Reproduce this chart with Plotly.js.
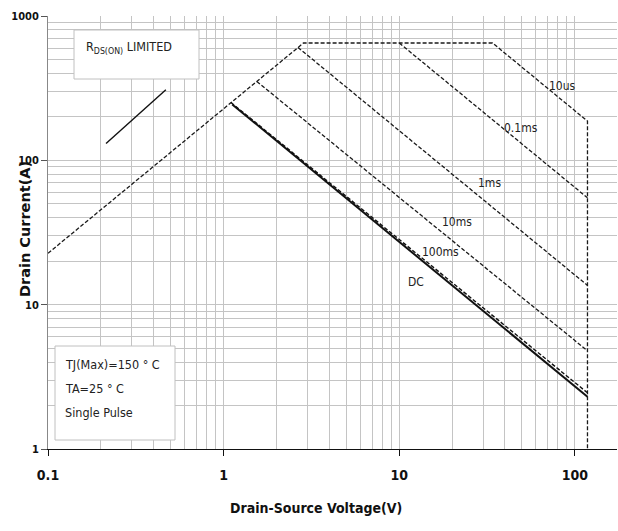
<!DOCTYPE html>
<html>
<head>
<meta charset="utf-8">
<script src="https://cdn.plot.ly/plotly-3.0.1.min.js"></script>
<style>html,body{margin:0;padding:0;background:#fff;}#chart{width:618px;height:531px;}</style>
</head>
<body>
<div id="chart"></div>
<script>
// ---- data (Vds in V, Id in A) ----
const limitV = [0.1, 2.85, 34, 118, 118];      // RDS(on) limit, 10us pulse, BVdss limit
const limitI = [22.7, 650, 650, 187, 1];
const v01ms = [10, 118];
const i01ms = [650, 55];
const v1ms = [2.65, 118];
const i1ms = [606, 13.6];
const v10ms = [1.545, 118];
const i10ms = [352, 4.79];
const v100ms = [1.1, 118];
const i100ms = [252, 2.45];
const vDC = [1.12, 118];
const iDC = [244, 2.3];
const pointerV = [0.214, 0.469];
const pointerI = [131, 308];

const xTickVals = [0.1, 1, 10, 100];
const xTickText = ['0.1', '1', '10', '100'];
const yTickVals = [1, 10, 100, 1000];
const yTickText = ['1', '10', '100', '1000'];

const curveLabels = ['10us', '0.1ms', '1ms', '10ms', '100ms', 'DC'];
const labelLogX = [1.929, 1.695, 1.513, 1.330, 1.234, 1.097];
const labelLogY = [2.512, 2.221, 1.841, 1.571, 1.363, 1.156];

const condText = ['TJ(Max)=150 ° C', 'TA=25 ° C', 'Single Pulse'];

// ---- build ----
function minorVals(lo, hi) {
  const out = [];
  for (let d = lo; d < hi; d++) for (let k = 2; k <= 9; k++) out.push(k * Math.pow(10, d));
  return out;
}
const narrow = '"Liberation Sans Narrow", "DejaVu Sans Condensed", "Arial Narrow", sans-serif';
const dashed = {color: '#1a1a1a', width: 1.3, dash: '4px,2px'};

const traces = [
  {x: limitV, y: limitI, mode: 'lines', line: dashed},
  {x: v01ms, y: i01ms, mode: 'lines', line: dashed},
  {x: v1ms, y: i1ms, mode: 'lines', line: dashed},
  {x: v10ms, y: i10ms, mode: 'lines', line: dashed},
  {x: vDC, y: iDC, mode: 'lines', line: {color: '#111', width: 2}},
  {x: v100ms, y: i100ms, mode: 'lines', line: {color: '#111', width: 1.4, dash: '4px,2px'}},
  {x: pointerV, y: pointerI, mode: 'lines', line: {color: '#111', width: 1.4}}
];

const annotations = curveLabels.map((t, i) => ({
  text: t, x: labelLogX[i], y: labelLogY[i], xref: 'x', yref: 'y',
  showarrow: false, font: {family: narrow, size: 12, color: '#222'}
}));

const px = v => (v - 48) / 569;
const py = v => (449 - v) / 433;

annotations.push({
  text: 'R<sub>DS(ON)</sub> LIMITED', x: px(84), y: py(48), xref: 'paper', yref: 'paper',
  xanchor: 'left', yanchor: 'middle', showarrow: false, font: {family: narrow, size: 12.5, color: '#222'}
});
condText.forEach((t, i) => annotations.push({
  text: t, x: px(63), y: py(364 + 24 * i), xref: 'paper', yref: 'paper',
  xanchor: 'left', yanchor: 'middle', showarrow: false, font: {family: narrow, size: 12.5, color: '#222'}
}));
annotations.push({
  text: '<b>Drain Current(A)</b>', x: px(15), y: py(229), xref: 'paper', yref: 'paper',
  textangle: -90, showarrow: false, font: {family: '"DejaVu Sans", Verdana, sans-serif', size: 14.5, color: '#111'}
});
annotations.push({
  text: '<b>Drain-Source Voltage(V)</b>', x: px(316), y: py(518), xref: 'paper', yref: 'paper',
  showarrow: false, font: {family: narrow, size: 14, color: '#111'}
});

const shapes = [
  {type: 'rect', xref: 'paper', yref: 'paper', x0: px(74), x1: px(199), y0: py(79), y1: py(30),
   fillcolor: '#fff', line: {color: '#c0c0c0', width: 1}, layer: 'above'},
  {type: 'rect', xref: 'paper', yref: 'paper', x0: px(55), x1: px(175), y0: py(440), y1: py(346),
   fillcolor: '#fff', line: {color: '#c0c0c0', width: 1}, layer: 'above'}
];

const layout = {
  width: 618, height: 531,
  margin: {l: 48, r: 1, t: 16, b: 82},
  paper_bgcolor: '#fff', plot_bgcolor: '#fff',
  showlegend: false,
  xaxis: {
    type: 'log', range: [-1, 2.24],
    tickvals: xTickVals, ticktext: xTickText,
    ticks: 'outside', ticklen: 6, tickcolor: '#111',
    tickfont: {family: narrow, size: 14, color: '#111', weight: 'bold'},
    ticklabelstandoff: 7,
    showline: true, linecolor: '#111', linewidth: 1.2,
    showgrid: true, gridcolor: '#c4c4c4', gridwidth: 1,
    minor: {tickvals: minorVals(-1, 3), showgrid: true, gridcolor: '#c4c4c4', gridwidth: 1, ticks: ''},
    zeroline: false, fixedrange: true
  },
  yaxis: {
    type: 'log', range: [0, 3],
    tickvals: yTickVals, ticktext: yTickText,
    ticks: 'outside', ticklen: 6, tickcolor: '#555',
    tickfont: {family: narrow, size: 11, color: '#111', weight: 'bold'},
    showline: true, linecolor: '#888', linewidth: 1,
    showgrid: true, gridcolor: '#c4c4c4', gridwidth: 1,
    minor: {tickvals: minorVals(0, 3), showgrid: true, gridcolor: '#c4c4c4', gridwidth: 1, ticks: ''},
    zeroline: false, fixedrange: true
  },
  annotations: annotations,
  shapes: shapes
};

Plotly.newPlot('chart', traces, layout, {displayModeBar: false, staticPlot: true});
</script>
</body>
</html>
